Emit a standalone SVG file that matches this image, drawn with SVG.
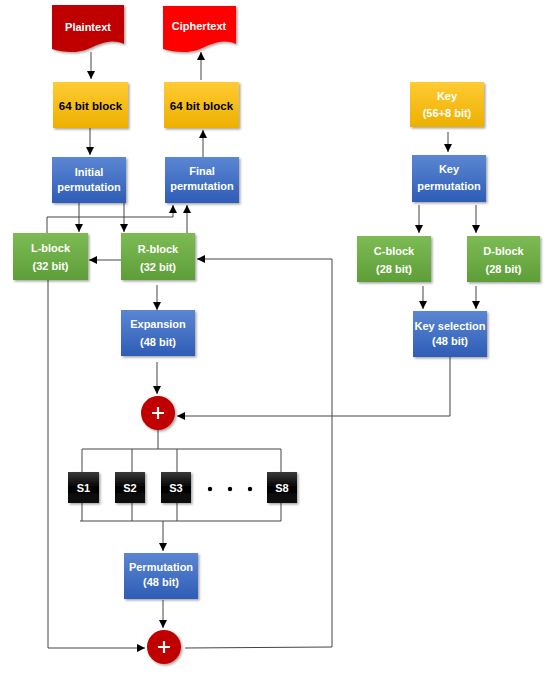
<svg xmlns="http://www.w3.org/2000/svg" width="560" height="688" viewBox="0 0 560 688">
<defs>
<linearGradient id="gBlue" x1="0" y1="0" x2="0" y2="1"><stop offset="0" stop-color="#5B86D3"/><stop offset="1" stop-color="#2E5DB6"/></linearGradient>
<linearGradient id="gGreen" x1="0" y1="0" x2="0" y2="1"><stop offset="0" stop-color="#7DBB55"/><stop offset="1" stop-color="#5E9E38"/></linearGradient>
<linearGradient id="gYellow" x1="0" y1="0" x2="0" y2="1"><stop offset="0" stop-color="#FFCB33"/><stop offset="1" stop-color="#EDB000"/></linearGradient>
<linearGradient id="gBlack" x1="0" y1="0" x2="0" y2="1"><stop offset="0" stop-color="#3a3a3a"/><stop offset="0.5" stop-color="#000"/><stop offset="1" stop-color="#111"/></linearGradient>
<filter id="sh" x="-20%" y="-20%" width="150%" height="150%"><feDropShadow dx="1.5" dy="1.5" stdDeviation="1.2" flood-color="#000" flood-opacity="0.35"/></filter>
<marker id="ah" viewBox="0 0 10 10" refX="10" refY="5" markerWidth="8" markerHeight="8" markerUnits="userSpaceOnUse" orient="auto"><path d="M0,0 L10,5 L0,10 Z" fill="#000"/></marker>
</defs>
<style>
.t{font-family:"Liberation Sans",Arial,sans-serif;font-weight:bold;font-size:11px;text-anchor:middle;fill:#fff}
.tk{fill:#000;font-size:11.5px}
.ln{fill:none;stroke:#444;stroke-width:1}
.ar{fill:none;stroke:#444;stroke-width:1;marker-end:url(#ah)}
.blue{fill:url(#gBlue);filter:url(#sh)}
.green{fill:url(#gGreen);filter:url(#sh)}
.yellow{fill:url(#gYellow);filter:url(#sh)}
.sbox{fill:url(#gBlack);filter:url(#sh)}
.xor{fill:#C00000;filter:url(#sh)}
.plus{stroke:#fff;stroke-width:2.2}
</style>
<rect width="560" height="688" fill="#fff"/>

<g id="connectors">
<path class="ar" d="M91,52 V79"/>
<path class="ar" d="M90,128 V155"/>
<path class="ar" d="M203,157 V130"/>
<path class="ar" d="M201,80 V52"/>
<path class="ar" d="M79,203 V232"/>
<path class="ar" d="M124,203 V232"/>
<path class="ar" d="M47,233 V217 H173 V205"/>
<path class="ar" d="M187,233 V205"/>
<path class="ar" d="M121,260 H89"/>
<path class="ar" d="M157,285 V310"/>
<path class="ar" d="M157,362 V394"/>
<path class="ar" d="M450,357 V416 H177"/>
<path class="ar" d="M448,132 V152"/>
<path class="ar" d="M419,205 V233"/>
<path class="ar" d="M476,205 V233"/>
<path class="ar" d="M423,286 V309"/>
<path class="ar" d="M476,286 V309"/>
<path class="ln" d="M158,430 V449"/>
<path class="ln" d="M82,449 H281"/>
<path class="ln" d="M82,449 V472 M132,449 V472 M177,449 V472 M281,449 V472"/>
<path class="ln" d="M82,503 V521 M132,503 V521 M177,503 V521 M281,503 V521"/>
<path class="ln" d="M80,521 H281"/>
<path class="ar" d="M163,521 V551"/>
<path class="ar" d="M163,600 V628"/>
<path class="ar" d="M48,280 V648 H145"/>
<path class="ar" d="M185,648 L332,647 V259 H197"/>
</g>

<g id="plaintext">
<path d="M52,5 H124 V44 C110,38 100,44 88,49 C76,54 62,52 52,49 Z" fill="#C00000" filter="url(#sh)"/>
<text class="t" x="88" y="31" font-size="12">Plaintext</text>
</g>
<g id="ciphertext">
<path d="M163,6 H236 V44 C222,38 212,44 200,49 C188,54 174,52 163,49 Z" fill="#FF0000" filter="url(#sh)"/>
<text class="t" x="199" y="30" font-size="12">Ciphertext</text>
</g>

<g id="block64-in">
<rect class="yellow" x="53" y="82" width="75" height="46"/>
<text class="t tk" x="90.5" y="110">64 bit block</text>
</g>
<g id="block64-out">
<rect class="yellow" x="164" y="82" width="75" height="46"/>
<text class="t tk" x="201.5" y="110">64 bit block</text>
</g>

<g id="initial-permutation">
<rect class="blue" x="52" y="157" width="74" height="46"/>
<text class="t" x="89" y="176">Initial</text>
<text class="t" x="89" y="191">permutation</text>
</g>
<g id="final-permutation">
<rect class="blue" x="165" y="157" width="74" height="46"/>
<text class="t" x="202" y="175">Final</text>
<text class="t" x="202" y="190">permutation</text>
</g>

<g id="l-block">
<rect class="green" x="13" y="233" width="75" height="47"/>
<text class="t" x="50.5" y="252">L-block</text>
<text class="t" x="50.5" y="270">(32 bit)</text>
</g>
<g id="r-block">
<rect class="green" x="121" y="233" width="74" height="47"/>
<text class="t" x="158" y="253">R-block</text>
<text class="t" x="158" y="271">(32 bit)</text>
</g>

<g id="expansion">
<rect class="blue" x="121" y="310" width="74" height="46"/>
<text class="t" x="158" y="328">Expansion</text>
<text class="t" x="158" y="346">(48 bit)</text>
</g>

<g id="xor1">
<circle class="xor" cx="158" cy="413" r="17"/>
<path class="plus" d="M152,413 H164 M158,407 V419"/>
</g>

<g id="s1"><rect class="sbox" x="68" y="472" width="31" height="31"/><text class="t" x="83.5" y="492">S1</text></g>
<g id="s2"><rect class="sbox" x="115" y="472" width="30" height="31"/><text class="t" x="130" y="492">S2</text></g>
<g id="s3"><rect class="sbox" x="161" y="472" width="30" height="31"/><text class="t" x="176" y="492">S3</text></g>
<g id="dots"><circle cx="210" cy="489" r="2.2" fill="#000"/><circle cx="230" cy="489" r="2.2" fill="#000"/><circle cx="250" cy="489" r="2.2" fill="#000"/></g>
<g id="s8"><rect class="sbox" x="267" y="472" width="30" height="31"/><text class="t" x="282" y="492">S8</text></g>

<g id="permutation">
<rect class="blue" x="124" y="553" width="74" height="46"/>
<text class="t" x="161" y="571">Permutation</text>
<text class="t" x="161" y="586">(48 bit)</text>
</g>

<g id="xor2">
<circle class="xor" cx="164" cy="647" r="17"/>
<path class="plus" d="M158,647 H170 M164,641 V653"/>
</g>

<g id="key">
<rect class="yellow" x="410" y="82" width="74" height="45"/>
<text class="t" x="447" y="100">Key</text>
<text class="t" x="447" y="117">(56+8 bit)</text>
</g>
<g id="key-permutation">
<rect class="blue" x="412" y="155" width="74" height="47"/>
<text class="t" x="449" y="173">Key</text>
<text class="t" x="449" y="190">permutation</text>
</g>
<g id="c-block">
<rect class="green" x="357" y="236" width="74" height="46"/>
<text class="t" x="394" y="255">C-block</text>
<text class="t" x="394" y="273">(28 bit)</text>
</g>
<g id="d-block">
<rect class="green" x="467" y="236" width="73" height="46"/>
<text class="t" x="503.5" y="255">D-block</text>
<text class="t" x="503.5" y="273">(28 bit)</text>
</g>
<g id="key-selection">
<rect class="blue" x="413" y="311" width="74" height="46"/>
<text class="t" x="450" y="330" font-size="10.5">Key selection</text>
<text class="t" x="450" y="345">(48 bit)</text>
</g>
</svg>
